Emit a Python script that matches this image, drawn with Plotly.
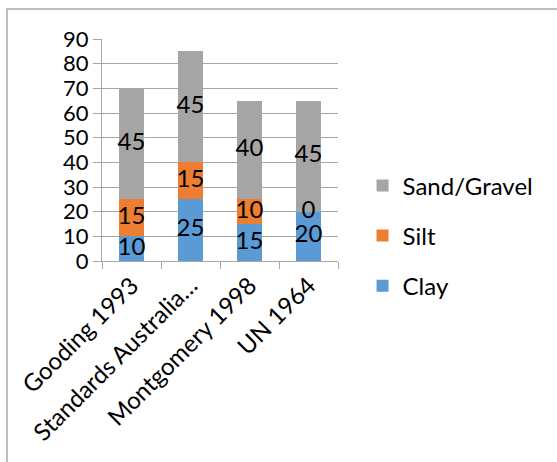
import plotly.graph_objects as go

categories = ["Gooding 1993", "Standards Australia…", "Montgomery 1998", "UN 1964"]
clay = [10, 25, 15, 20]
silt = [15, 15, 10, 0]
sand_gravel = [45, 45, 40, 45]
y_ticks = [0, 10, 20, 30, 40, 50, 60, 70, 80, 90]

series = [
    ("Clay", clay, "#5B9BD5", 3),
    ("Silt", silt, "#ED7D31", 2),
    ("Sand/Gravel", sand_gravel, "#A5A5A5", 1),
]

FONT = "Lato, 'Open Sans', sans-serif"
FS = 24
GRID = "#A6A6A6"

fig = go.Figure()
base = [0] * len(categories)
label_traces = []
for name, vals, color, rank in series:
    fig.add_trace(go.Bar(
        x=categories, y=vals, name=name, legendgroup=name, legendrank=rank,
        marker=dict(color=color, line=dict(width=0)),
    ))
    mids = [b + v / 2 for b, v in zip(base, vals)]
    label_traces.append(go.Scatter(
        x=categories, y=mids, mode="text", text=[str(v) for v in vals],
        textposition="middle center", showlegend=False, hoverinfo="skip",
        textfont=dict(color="black", size=FS, family=FONT), cliponaxis=False,
    ))
    base = [b + v for b, v in zip(base, vals)]
for t in label_traces:
    fig.add_trace(t)

fig.update_layout(
    width=557, height=462,
    margin=dict(l=102, r=219, t=39, b=201, autoexpand=False),
    barmode="stack", bargap=0.59,
    paper_bgcolor="white", plot_bgcolor="white",
    font=dict(family=FONT, size=FS, color="black"),
    legend=dict(
        x=1.104, xanchor="left", y=0.44, yanchor="top",
        traceorder="grouped", tracegroupgap=16,
        font=dict(size=FS, family=FONT, color="black"),
        bgcolor="rgba(0,0,0,0)",
    ),
    showlegend=True,
)
fig.update_yaxes(
    range=[0, 90], tickvals=y_ticks, showgrid=True, gridcolor=GRID, gridwidth=1,
    showline=True, linecolor=GRID, linewidth=1, ticks="outside", ticklen=8,
    tickcolor=GRID, zeroline=False, tickfont=dict(size=22, family=FONT),
    automargin=False,
)
fig.update_xaxes(
    tickangle=-45, showline=True, linecolor=GRID, linewidth=1,
    ticks="outside", ticklen=7, tickcolor=GRID, tickson="boundaries",
    tickfont=dict(size=FS, family=FONT), automargin=False,
)
# chart frame
fig.add_shape(type="rect", xref="paper", yref="paper",
              x0=(7 - 102) / 236, x1=3.0, y0=-2.0, y1=(261 - 9) / 222,
              line=dict(color="#BFBFBF", width=2), fillcolor="rgba(0,0,0,0)",
              layer="below")

fig.write_html("out.html", config={"displayModeBar": False},
               post_script="document.body.style.margin='0';document.body.style.overflow='hidden';")
